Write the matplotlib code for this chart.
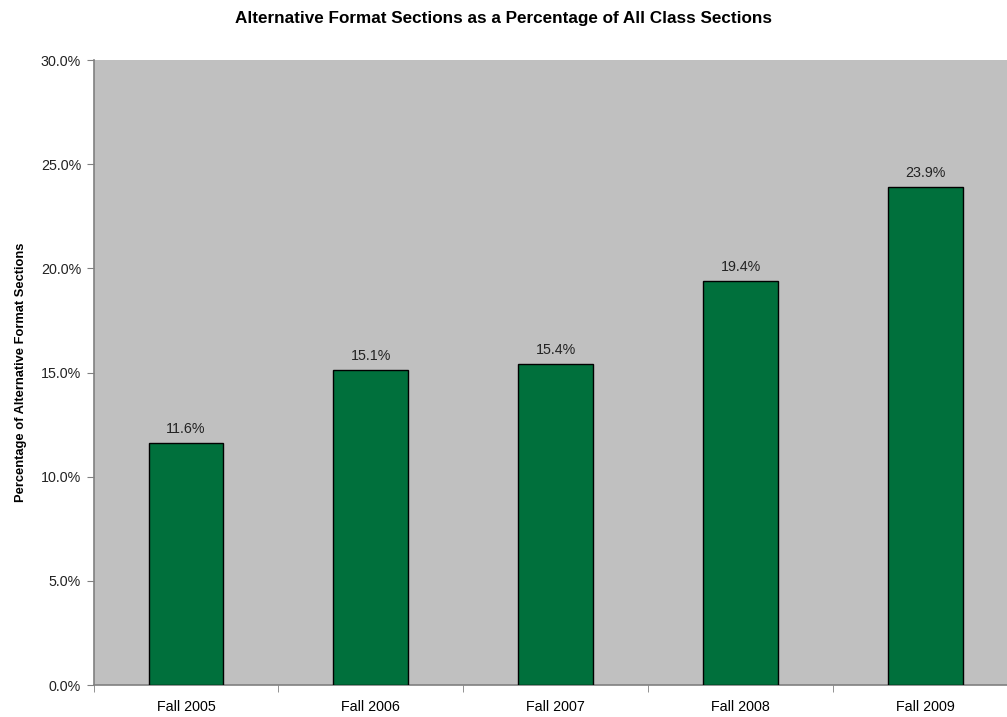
import numpy as np
import matplotlib
matplotlib.use('Agg')
import matplotlib.pyplot as plt
from matplotlib.ticker import FuncFormatter, FixedLocator

categories = ['Fall 2005', 'Fall 2006', 'Fall 2007', 'Fall 2008', 'Fall 2009']
values = [11.6, 15.1, 15.4, 19.4, 23.9]

plt.rcParams['font.family'] = ['Liberation Sans', 'DejaVu Sans']

fig = plt.figure(figsize=(10.07, 7.17), dpi=100)
fig.set_facecolor('w')
ax = fig.add_axes([0.0929, 0.0446, 0.918, 0.8717])
ax.set_facecolor('#C0C0C0')

x = np.arange(len(categories))
bars = ax.bar(x, values, width=0.405, color='#00703C', edgecolor='black', linewidth=1.0, zorder=3)
for xi, v in zip(x, values):
    ax.text(xi, v + 0.35, '%.1f%%' % v, ha='center', va='bottom', fontsize=10.3, color='#222222')

ax.set_xlim(-0.5, len(categories) - 0.5)
ax.set_ylim(0, 30)
ax.set_yticks(np.arange(0, 30.1, 5))
ax.yaxis.set_major_formatter(FuncFormatter(lambda v, p: '%.1f%%' % v))
ax.set_xticks(x)
ax.set_xticklabels(categories)
ax.xaxis.set_minor_locator(FixedLocator(np.arange(-0.5, len(categories), 1.0)))
ax.tick_params(axis='x', which='major', length=0, pad=11, labelsize=10.3)
ax.tick_params(axis='x', which='minor', length=5, color='#808080', direction='out')
ax.tick_params(axis='y', length=5, color='#808080', labelsize=10.3, pad=4, labelcolor='#222222')

for s in ['top', 'right']:
    ax.spines[s].set_visible(False)
for s in ['left', 'bottom']:
    ax.spines[s].set_color('#808080')
    ax.spines[s].set_linewidth(1.2)

ax.set_ylabel('Percentage of Alternative Format Sections', fontsize=9.3, fontweight='bold', labelpad=10)
fig.suptitle('Alternative Format Sections as a Percentage of All Class Sections',
             fontsize=12.3, fontweight='bold', y=0.984)

fig.savefig('out.png', dpi=100)
